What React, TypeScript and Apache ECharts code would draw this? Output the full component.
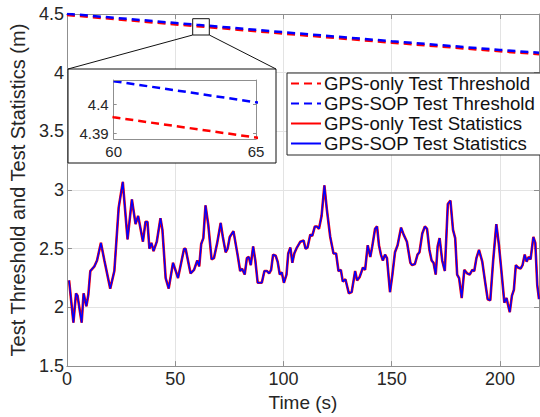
import React, { useEffect, useRef } from "react";
import * as echarts from "echarts";

// ---- data ----
const statTime = [
  1.0, 3.0, 4.2, 4.9, 6.8, 7.7, 9.0, 9.9, 10.8, 12.7, 13.9, 15.7, 17.3, 20.0, 21.9, 23.9, 25.8, 28.0, 30.0, 31.7,
  32.9, 35.1, 36.3, 37.2, 38.1, 39.0, 40.0, 41.5, 43.2, 44.1, 45.6, 47.0, 49.0, 49.9, 51.3, 54.1, 54.8, 57.1, 58.7,
  60.2, 61.1, 62.0, 63.0, 64.0, 65.3, 66.8, 67.9, 69.4, 71.0, 72.0, 73.3, 74.2, 75.2, 76.9, 78.8, 80.0, 80.9, 82.1,
  83.1, 84.0, 84.9, 86.0, 87.0, 88.1, 90.0, 91.2, 92.4, 93.4, 94.3, 95.2, 96.4, 97.3, 98.3, 99.2, 100.2, 101.4,
  102.2, 103.2, 104.1, 105.0, 106.2, 107.8, 109.3, 110.2, 111.1, 112.4, 113.3, 114.5, 115.4, 116.4, 117.6, 118.9,
  120.0, 121.6, 123.1, 124.3, 125.4, 126.5, 127.4, 128.6, 130.2, 131.5, 133.1, 134.0, 135.2, 136.7, 137.7, 138.9,
  140.1, 141.0, 142.3, 143.2, 144.1, 145.0, 145.9, 146.9, 147.8, 149.2, 150.3, 151.5, 152.7, 154.3, 155.5, 157.0,
  158.6, 159.4, 160.7, 161.9, 162.8, 164.1, 165.3, 166.3, 167.4, 168.4, 169.3, 170.3, 171.2, 172.1, 173.3, 174.5,
  175.9, 177.1, 178.3, 179.3, 180.2, 181.1, 182.3, 183.5, 184.8, 186.0, 187.2, 188.1, 189.1, 190.3, 191.8, 193.1,
  194.3, 195.5, 196.8, 198.3, 199.5, 200.8, 202.0, 203.0, 203.6, 204.5, 205.5, 206.4, 207.3, 208.3, 209.5, 210.4,
  211.4, 212.3, 213.2, 214.1, 215.4, 216.3, 217.2, 218.0,
];
const gpsOnlyStat = [
  2.23, 1.87, 2.12, 2.10, 1.87, 2.12, 2.01, 2.11, 2.31, 2.35, 2.40, 2.55, 2.40, 2.16, 2.31, 2.85, 3.07, 2.58, 2.92, 2.71,
  2.78, 2.56, 2.73, 2.73, 2.50, 2.55, 2.48, 2.56, 2.76, 2.66, 2.25, 2.16, 2.38, 2.33, 2.25, 2.50, 2.50, 2.29, 2.32,
  2.40, 2.35, 2.54, 2.59, 2.87, 2.70, 2.41, 2.42, 2.55, 2.72, 2.60, 2.47, 2.50, 2.60, 2.65, 2.45, 2.31, 2.33, 2.28,
  2.42, 2.43, 2.36, 2.52, 2.40, 2.21, 2.21, 2.31, 2.31, 2.29, 2.32, 2.45, 2.44, 2.39, 2.28, 2.30, 2.21, 2.28,
  2.46, 2.51, 2.38, 2.46, 2.51, 2.56, 2.57, 2.50, 2.51, 2.62, 2.61, 2.69, 2.69, 2.67, 2.78, 3.04,
  2.84, 2.60, 2.46, 2.46, 2.31, 2.32, 2.22, 2.24, 2.12, 2.13, 2.31, 2.23, 2.26, 2.34, 2.32, 2.53,
  2.43, 2.52, 2.67, 2.69, 2.53, 2.45, 2.40, 2.45, 2.42, 2.13, 2.28, 2.47, 2.53, 2.68, 2.62, 2.56,
  2.38, 2.36, 2.37, 2.45, 2.47, 2.63, 2.69, 2.67, 2.49, 2.40, 2.38, 2.28, 2.52, 2.59, 2.40, 2.31,
  2.88, 2.91, 2.66, 2.59, 2.28, 2.25, 2.08, 2.32, 2.29, 2.28, 2.32, 2.31, 2.42, 2.49, 2.39, 2.22,
  2.07, 2.06, 2.39, 2.71, 2.53, 2.28, 2.04, 2.08, 2.03, 1.96, 2.10, 2.15, 2.36, 2.34, 2.33, 2.36,
  2.45, 2.39, 2.43, 2.41, 2.60, 2.55, 2.19, 2.07,
];
const gpsSopStat = [
  2.23, 1.87, 2.12, 2.10, 1.87, 2.12, 2.01, 2.11, 2.31, 2.35, 2.40, 2.55, 2.40, 2.16, 2.31, 2.85, 3.07, 2.58, 2.92, 2.71,
  2.78, 2.56, 2.73, 2.73, 2.50, 2.55, 2.48, 2.56, 2.76, 2.66, 2.25, 2.16, 2.38, 2.33, 2.25, 2.50, 2.50, 2.29, 2.32,
  2.40, 2.35, 2.54, 2.59, 2.87, 2.70, 2.41, 2.42, 2.55, 2.72, 2.60, 2.47, 2.50, 2.60, 2.65, 2.45, 2.31, 2.33, 2.28,
  2.42, 2.43, 2.36, 2.52, 2.40, 2.21, 2.21, 2.31, 2.31, 2.29, 2.32, 2.45, 2.44, 2.39, 2.28, 2.30, 2.21, 2.28,
  2.46, 2.51, 2.38, 2.46, 2.51, 2.56, 2.57, 2.50, 2.51, 2.62, 2.61, 2.69, 2.69, 2.67, 2.78, 3.04,
  2.84, 2.60, 2.46, 2.46, 2.31, 2.32, 2.22, 2.24, 2.12, 2.13, 2.31, 2.23, 2.26, 2.34, 2.32, 2.53,
  2.43, 2.52, 2.67, 2.69, 2.53, 2.45, 2.40, 2.45, 2.42, 2.13, 2.28, 2.47, 2.53, 2.68, 2.62, 2.56,
  2.38, 2.36, 2.37, 2.45, 2.47, 2.63, 2.69, 2.67, 2.49, 2.40, 2.38, 2.28, 2.52, 2.59, 2.40, 2.31,
  2.88, 2.91, 2.66, 2.59, 2.28, 2.25, 2.08, 2.32, 2.29, 2.28, 2.32, 2.31, 2.42, 2.49, 2.39, 2.22,
  2.07, 2.06, 2.39, 2.71, 2.53, 2.28, 2.04, 2.08, 2.03, 1.96, 2.10, 2.15, 2.36, 2.34, 2.33, 2.36,
  2.45, 2.39, 2.43, 2.41, 2.60, 2.55, 2.19, 2.07,
];
const thrTime = [0, 60, 65, 100, 150, 200, 218];
const gpsOnlyThr = [4.492, 4.3955, 4.3885, 4.333, 4.256, 4.182, 4.158];
const gpsSopThr = [4.502, 4.408, 4.4007, 4.345, 4.268, 4.194, 4.17];
const seriesNames = [
  "GPS-only Test Threshold",
  "GPS-SOP Test Threshold",
  "GPS-only Test Statistics",
  "GPS-SOP Test Statistics",
];
const xTitle = "Time (s)";
const yTitle = "Test Threshold and Test Statistics (m)";
const insetYTicks = [4.39, 4.4];

const FONT = "Liberation Sans, Arial, Helvetica, sans-serif";
const AXIS = "#8f8f8f";
const TXT = "#262626";
const RED = "#ff0000";
const BLUE = "#0000ff";

const zip = (xs: number[], ys: number[]) => xs.map((x, i) => [x, ys[i]]);

export default function App() {
  const ref = useRef<HTMLDivElement>(null);
  useEffect(() => {
    if (!ref.current) return;
    const chart = echarts.init(ref.current, undefined, { renderer: "svg" });
    const mainX = {
      type: "value",
      min: 0,
      max: 218,
      interval: 50,
      axisLine: { show: true, onZero: false, lineStyle: { color: AXIS, width: 1 } },
      axisTick: { inside: true, length: 5, lineStyle: { color: AXIS } },
    };
    const mainY = {
      type: "value",
      min: 1.5,
      max: 4.5,
      interval: 0.5,
      axisLine: { show: true, onZero: false, lineStyle: { color: AXIS, width: 1 } },
      axisTick: { inside: true, length: 5, lineStyle: { color: AXIS } },
    };
    const insetAxisLine = { show: true, onZero: false, lineStyle: { color: AXIS, width: 1 } };
    chart.setOption({
      animation: false,
      textStyle: { fontFamily: FONT },
      grid: [
        { left: 65.5, top: 14, right: 1, bottom: 47 },
        { left: 113.7, top: 80, width: 142.3, height: 59 },
      ],
      xAxis: [
        {
          ...mainX,
          gridIndex: 0,
          position: "bottom",
          splitLine: { show: true, lineStyle: { color: "#e3e3e3", width: 1 } },
          axisLabel: { fontSize: 18, color: TXT, margin: 4, showMaxLabel: false, fontFamily: FONT },
          name: xTitle,
          nameLocation: "middle",
          nameGap: 24,
          nameTextStyle: { fontSize: 19, color: TXT, fontFamily: FONT },
        },
        { ...mainX, gridIndex: 0, position: "top", splitLine: { show: false }, axisLabel: { show: false } },
        {
          type: "value",
          gridIndex: 1,
          min: 60,
          max: 65,
          interval: 5,
          position: "bottom",
          z: 20,
          axisLine: insetAxisLine,
          axisTick: { show: false },
          splitLine: { show: false },
          axisLabel: { fontSize: 15, color: TXT, margin: 5, fontFamily: FONT },
        },
        {
          type: "value",
          gridIndex: 1,
          min: 60,
          max: 65,
          position: "top",
          z: 20,
          axisLine: insetAxisLine,
          axisTick: { show: false },
          splitLine: { show: false },
          axisLabel: { show: false },
        },
      ],
      yAxis: [
        {
          ...mainY,
          gridIndex: 0,
          position: "left",
          splitLine: { show: true, lineStyle: { color: "#e3e3e3", width: 1 } },
          axisLabel: { fontSize: 18, color: TXT, margin: 3, fontFamily: FONT },
          name: yTitle,
          nameLocation: "middle",
          nameGap: 35,
          nameTextStyle: { fontSize: 20, color: TXT, fontFamily: FONT },
        },
        { ...mainY, gridIndex: 0, position: "right", splitLine: { show: false }, axisLabel: { show: false } },
        {
          type: "value",
          gridIndex: 1,
          min: 4.388,
          max: 4.4084,
          position: "left",
          z: 20,
          axisLine: insetAxisLine,
          axisTick: { show: true, inside: true, length: 3, customValues: insetYTicks, lineStyle: { color: AXIS } },
          splitLine: { show: false },
          axisLabel: {
            fontSize: 15,
            color: TXT,
            margin: 5,
            fontFamily: FONT,
            customValues: insetYTicks,
            formatter: (v: number) => String(Math.round(v * 100) / 100),
          },
        },
        {
          type: "value",
          gridIndex: 1,
          min: 4.388,
          max: 4.4084,
          position: "right",
          z: 20,
          axisLine: insetAxisLine,
          axisTick: { show: true, inside: true, length: 3, customValues: insetYTicks, lineStyle: { color: AXIS } },
          splitLine: { show: false },
          axisLabel: { show: false, customValues: insetYTicks },
        },
      ],
      legend: {
        data: seriesNames,
        orient: "vertical",
        left: 287,
        top: 73,
        padding: [1, 8, 2, 3],
        itemWidth: 30,
        itemHeight: 14,
        itemGap: 1,
        backgroundColor: "#ffffff",
        borderColor: "#262626",
        borderWidth: 1,
        borderRadius: 0,
        z: 20,
        itemStyle: { opacity: 0 },
        textStyle: { fontSize: 18.6, color: "#111", fontFamily: FONT, padding: [0, 0, 0, -2] },
        selectedMode: false,
      },
      graphic: {
        elements: [
          {
            type: "rect",
            z: 10,
            shape: { x: 68, y: 69, width: 208, height: 94 },
            style: { fill: "#ffffff", stroke: "#111", lineWidth: 1 },
          },
          {
            type: "rect",
            z: 10,
            shape: { x: 192.7, y: 18.7, width: 16.6, height: 16.3 },
            style: { fill: "none", stroke: "#111", lineWidth: 1 },
          },
          { type: "line", z: 10, shape: { x1: 192.7, y1: 35, x2: 68, y2: 69 }, style: { stroke: "#111", lineWidth: 1 } },
          { type: "line", z: 10, shape: { x1: 209.3, y1: 35, x2: 276, y2: 69 }, style: { stroke: "#111", lineWidth: 1 } },
        ],
      },
      series: [
        {
          name: seriesNames[0],
          type: "line",
          xAxisIndex: 0,
          yAxisIndex: 0,
          data: zip(thrTime, gpsOnlyThr),
          showSymbol: false,
          symbol: "none",
          lineStyle: { color: RED, width: 2.5, type: [8, 5] },
          itemStyle: { color: RED },
        },
        {
          name: seriesNames[1],
          type: "line",
          xAxisIndex: 0,
          yAxisIndex: 0,
          data: zip(thrTime, gpsSopThr),
          showSymbol: false,
          symbol: "none",
          lineStyle: { color: BLUE, width: 2.5, type: [8, 5] },
          itemStyle: { color: BLUE },
        },
        {
          name: seriesNames[2],
          type: "line",
          xAxisIndex: 0,
          yAxisIndex: 0,
          data: zip(statTime, gpsOnlyStat),
          showSymbol: false,
          symbol: "none",
          lineStyle: { color: RED, width: 2.6 },
          itemStyle: { color: RED },
        },
        {
          name: seriesNames[3],
          type: "line",
          xAxisIndex: 0,
          yAxisIndex: 0,
          data: zip(statTime, gpsSopStat),
          showSymbol: false,
          symbol: "none",
          lineStyle: { color: BLUE, width: 1.5 },
          itemStyle: { color: BLUE },
        },
        {
          name: "inset-gps-only",
          type: "line",
          xAxisIndex: 2,
          yAxisIndex: 2,
          z: 20,
          data: zip(thrTime, gpsOnlyThr),
          symbol: "none",
          clip: true,
          lineStyle: { color: RED, width: 2.5, type: [8, 5] },
        },
        {
          name: "inset-gps-sop",
          type: "line",
          xAxisIndex: 2,
          yAxisIndex: 2,
          z: 20,
          data: zip(thrTime, gpsSopThr),
          symbol: "none",
          clip: true,
          lineStyle: { color: BLUE, width: 2.5, type: [8, 5] },
        },
      ],
    });
    return () => chart.dispose();
  }, []);
  return (
    <div
      ref={ref}
      style={{ position: "fixed", left: 0, top: 0, width: 540, height: 417, background: "#fff" }}
    />
  );
}
